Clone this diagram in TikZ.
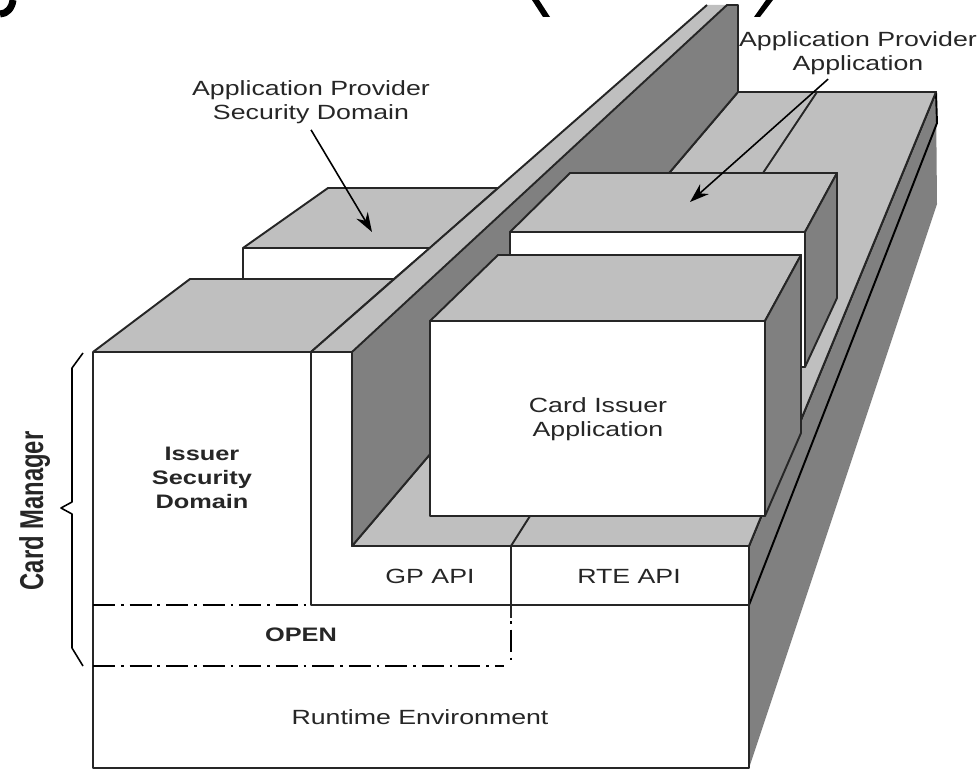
\documentclass[tikz,border=0pt]{standalone}
\usepackage{fontspec}
\setmainfont{Liberation Sans}[FakeStretch=1.3]
\newfontfamily\tallfont{Liberation Sans}[FakeStretch=0.72]
\usetikzlibrary{arrows.meta}
\definecolor{topgray}{HTML}{BFBFBF}
\definecolor{sidegray}{HTML}{808080}

\begin{document}
\begin{tikzpicture}[x=0.02cm,y=-0.02cm,line width=1.1pt,line join=round,
    lbl/.style={font=\fontsize{11.7}{13.7}\selectfont,align=center,text=black!85,inner sep=0pt},
    boldlbl/.style={lbl,font=\fontsize{11.1}{13.7}\selectfont\bfseries},
    topface/.style={draw=black!85,fill=topgray},
    sideface/.style={draw=black!85,fill=sidegray},
    frontface/.style={draw=black!85,fill=white},
    pointer/.style={line width=0.9pt,-{Stealth[length=11pt,width=7.5pt]}},
    chaindash/.style={line width=0.9pt,dash pattern=on 12.5pt off 3.4pt on 1.5pt off 3.4pt}]
      \useasboundingbox (0,0) rectangle (978,770);
      \fill (532,0) -- (539,0) -- (550,17) -- (543,17) -- cycle;
      \fill (766,0) -- (773,0) -- (760,17) -- (754,17) -- cycle;
      \draw[line width=4pt] (0,14) .. controls (7,14) and (12,8) .. (13,0);

      \fill[sidegray] (749,546) -- (936,92) -- (937,204) -- (749,768) -- cycle;
      \draw (749,546) -- (936,92) -- (937,123) -- (749,605);

      \draw[topface] (352,546) -- (749,546) -- (936,92) -- (738,92) -- cycle;
      \draw[black!85] (763,173) -- (817,92);

      \draw[topface] (243,248) -- (328,188) -- (498,188) -- (430,248) -- cycle;
      \draw[frontface] (243,279) -- (243,248) -- (430,248) -- (394,279);
      \draw[topface] (93,352) -- (190,279) -- (394,279) -- (311,352) -- cycle;

      \fill[topgray] (311,352) -- (707,5) -- (727,5) -- (352,352) -- cycle;
      \draw[sideface] (352,546) -- (352,352) -- (727,5) -- (738,5) -- (738,92) -- cycle;
      \draw[black!85] (352,352) -- (311,352) -- (707,5);

      \draw[frontface] (510,300) -- (510,232) -- (805,232) -- (805,367) -- (765,367) -- (765,300) -- cycle;
      \draw[topface] (510,232) -- (570,173) -- (837,173) -- (805,232) -- cycle;
      \draw[sideface] (805,232) -- (837,173) -- (837,298) -- (805,367) -- cycle;

      \draw[frontface] (430,321) rectangle (765,516);
      \draw[topface] (430,321) -- (498,255) -- (801,255) -- (765,321) -- cycle;
      \draw[sideface] (765,321) -- (801,255) -- (801,433) -- (765,516) -- cycle;

      \draw[black!85] (511,546) -- (530,516);
      \draw[black!85] (93,352) -- (311,352);
      \draw[black!85] (93,352) -- (93,768) -- (749,768) -- (749,546) -- (352,546);
      \draw[black!85] (311,352) -- (311,605) -- (749,605);
      \draw[black!85] (511,546) -- (511,618);
      \draw[chaindash] (93,605) -- (311,605);
      \draw[chaindash] (93,666) -- (504,666);
      \draw[line width=0.9pt,dash pattern=on 1.5pt off 3.4pt on 12.5pt off 3.4pt] (511,621) -- (511,661);

      \draw[line width=0.9pt] (83,353) -- (72,368) -- (72,502) -- (61,508) -- (72,514) -- (72,648) -- (83,666);

      \node[lbl] (spdlabel) at (311,102) {Application Provider\\Security Domain};
      \node[lbl] (apalabel) at (858,53) {Application Provider\\Application};
      \node[boldlbl] (isdlabel) at (202,478) {Issuer\\Security\\Domain};
      \node[lbl] (cialabel) at (598,419) {Card Issuer\\Application};
      \node[lbl] (gplabel) at (430,576) {GP API};
      \node[lbl] (rtelabel) at (629,576) {RTE API};
      \node[boldlbl] (openlabel) at (301,635) {OPEN};
      \node[lbl] (runtimelabel) at (420,717) {Runtime Environment};
      \node[lbl,font=\tallfont\bfseries\fontsize{18.8}{20}\selectfont,rotate=90,anchor=base] (cmlabel) at (43,511) {Card Manager};

      \coordinate (spdtip) at (372,232);
      \coordinate (apatip) at (690,202);
      \draw[pointer] ([yshift=-3pt]spdlabel.south) -- (spdtip);
      \draw[pointer] ([xshift=-17pt,yshift=-2pt]apalabel.south) -- (apatip);
    \end{tikzpicture}
\end{document}
